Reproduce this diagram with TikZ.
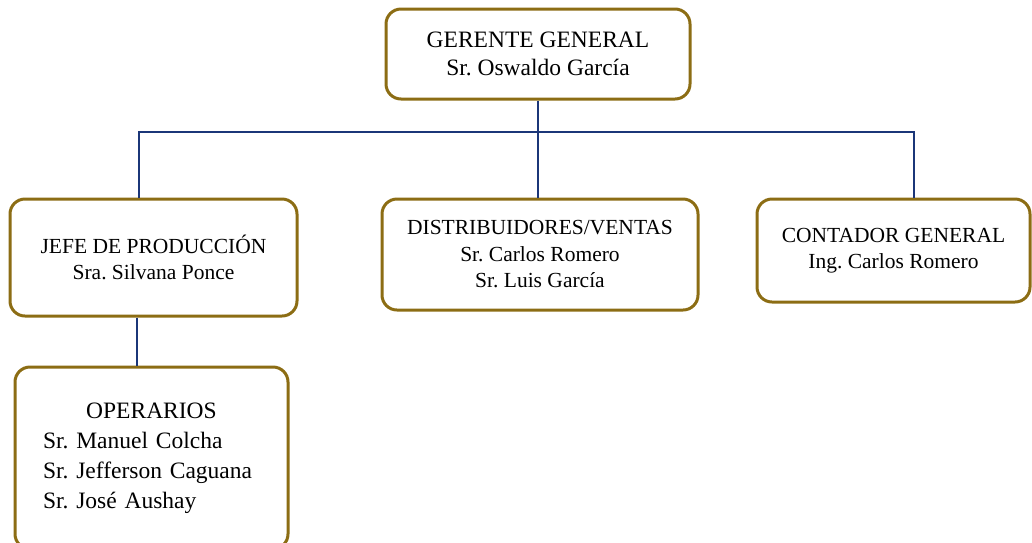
\documentclass[tikz,border=0pt]{standalone}
\usepackage{fontspec}
\setmainfont{Liberation Serif}
\usepackage{xcolor}
\usepackage{tikz}
\frenchspacing
\definecolor{boxgold}{HTML}{8C6D14}
\definecolor{linenavy}{HTML}{1B3678}
\tikzset{
  orgnode/.style = {align=center, inner sep=0pt, text centered,
    rectangle, rounded corners=15pt, draw=boxgold, line width=3pt, fill=white},
  bigbox/.style = {orgnode, font=\fontsize{23.5}{28}\selectfont},
  smallbox/.style = {orgnode, font=\fontsize{21.5}{26.5}\selectfont},
  conn/.style = {draw=linenavy, line width=2.8pt}
}
\begin{document}
\begin{tikzpicture}[x=1pt,y=-1pt]
    \useasboundingbox (0,0) rectangle (1032,542);
    \clip (0,0) rectangle (1032,542);
    \node[bigbox, minimum width=304pt, minimum height=90pt] (ger) at (538,54)
      {GERENTE GENERAL\\Sr. Oswaldo García};
    \node[smallbox, minimum width=287pt, minimum height=117pt] (jefe) at (153.5,257.5)
      {JEFE DE PRODUCCIÓN\\Sra. Silvana Ponce};
    \node[smallbox, minimum width=316pt, minimum height=111pt] (dist) at (540,254.5)
      {DISTRIBUIDORES/VENTAS\\Sr. Carlos Romero\\Sr. Luis García};
    \node[smallbox, minimum width=273pt, minimum height=103pt] (cont) at (893.5,250.5)
      {CONTADOR GENERAL\\Ing. Carlos Romero};
    \node[orgnode, align=left, text width=217pt, minimum width=273pt, minimum height=182pt,
      font=\fontsize{23.5}{30}\selectfont] (oper) at (151.5,458)
      {\makebox[\linewidth]{OPERARIOS}\\Sr. Manuel Colcha\\Sr. Jefferson Caguana\\Sr. José Aushay};
    % bus lines
    \coordinate (bl) at (139,132);
    \coordinate (br) at (914,132);
    \draw[conn] (ger.south) -- (ger.south |- dist.north);
    \draw[conn] (jefe.north -| bl) -- (bl) -- (br) -- (cont.north -| br);
    \draw[conn] ([xshift=-16.5pt]jefe.south) -- ([xshift=-16.5pt]jefe.south |- oper.north);
  \end{tikzpicture}
\end{document}
